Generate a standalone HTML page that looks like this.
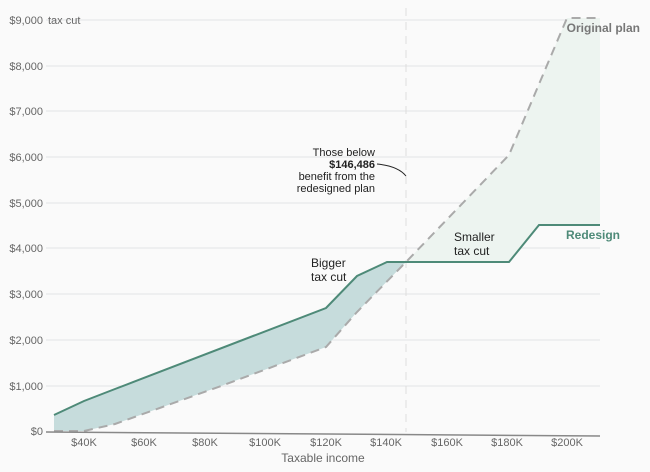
<!DOCTYPE html><html><head><style>body{margin:0;background:#fafafa}svg{display:block;font-family:"Liberation Sans",sans-serif}</style></head><body>
<svg width="650" height="472" viewBox="0 0 650 472">
<rect width="650" height="472" fill="#fafafa"/>
<g stroke="#e2e4e6" stroke-width="1">
<line x1="46" y1="20" x2="600" y2="20"/><line x1="46" y1="66" x2="600" y2="66"/><line x1="46" y1="111" x2="600" y2="111"/><line x1="46" y1="157" x2="600" y2="157"/><line x1="46" y1="203" x2="600" y2="203"/><line x1="46" y1="248" x2="600" y2="248"/><line x1="46" y1="294" x2="600" y2="294"/><line x1="46" y1="340" x2="600" y2="340"/><line x1="46" y1="386" x2="600" y2="386"/>
</g>
<g font-size="11" fill="#666" text-anchor="end">
<text x="43" y="24">$9,000</text><text x="43" y="70">$8,000</text><text x="43" y="115">$7,000</text><text x="43" y="161">$6,000</text><text x="43" y="207">$5,000</text><text x="43" y="252">$4,000</text><text x="43" y="298">$3,000</text><text x="43" y="344">$2,000</text><text x="43" y="390">$1,000</text><text x="43" y="435">$0</text>
</g>
<text x="48" y="24" font-size="11" fill="#666">tax cut</text>
<line x1="406" y1="8" x2="406" y2="432" stroke="#ddd" stroke-dasharray="8,6"/>
<polygon points="54,415 84,401 115,389 326,308 357,276 387,262 406,262 357,312 326,347 221,386 115,424 84,431 54,431" fill="#c6dcdc"/>
<polygon points="406,262 509,262 539,225 600,225 600,18 567,18 509,155" fill="#edf4f0"/>
<polyline points="54,431 84,431 115,424 221,386 326,347 357,312 406,262 509,155 567,18 600,18" fill="none" stroke="#aaa" stroke-width="2" stroke-dasharray="9,6"/>
<polyline points="54,415 84,401 115,389 326,308 357,276 387,262 509,262 539,225 600,225" fill="none" stroke="#4e8a78" stroke-width="2"/>
<line x1="46" y1="432" x2="600" y2="436" stroke="#888" stroke-width="1.5"/>
<g font-size="11" fill="#666" text-anchor="middle">
<text x="84" y="446">$40K</text><text x="144" y="446">$60K</text><text x="205" y="446">$80K</text><text x="265" y="446">$100K</text><text x="326" y="446">$120K</text><text x="386" y="446">$140K</text><text x="447" y="446">$160K</text><text x="507" y="446">$180K</text><text x="567" y="446">$200K</text>
<text x="323" y="462" font-size="12">Taxable income</text>
</g>
<text x="640" y="32" font-size="12" font-weight="bold" fill="#777" text-anchor="end">Original plan</text>
<text x="620" y="239" font-size="12" font-weight="bold" fill="#4e8a78" text-anchor="end">Redesign</text>
<g font-size="11" fill="#222" text-anchor="end">
<text x="375" y="156">Those below</text><text x="375" y="168" font-weight="bold">$146,486</text><text x="375" y="180">benefit from the</text><text x="375" y="192">redesigned plan</text>
</g>
<path d="M377,164 Q398,166 406,176" fill="none" stroke="#222"/>
<g font-size="12" fill="#222"><text x="311" y="267">Bigger</text><text x="311" y="281">tax cut</text><text x="454" y="241">Smaller</text><text x="454" y="255">tax cut</text></g>
</svg></body></html>
